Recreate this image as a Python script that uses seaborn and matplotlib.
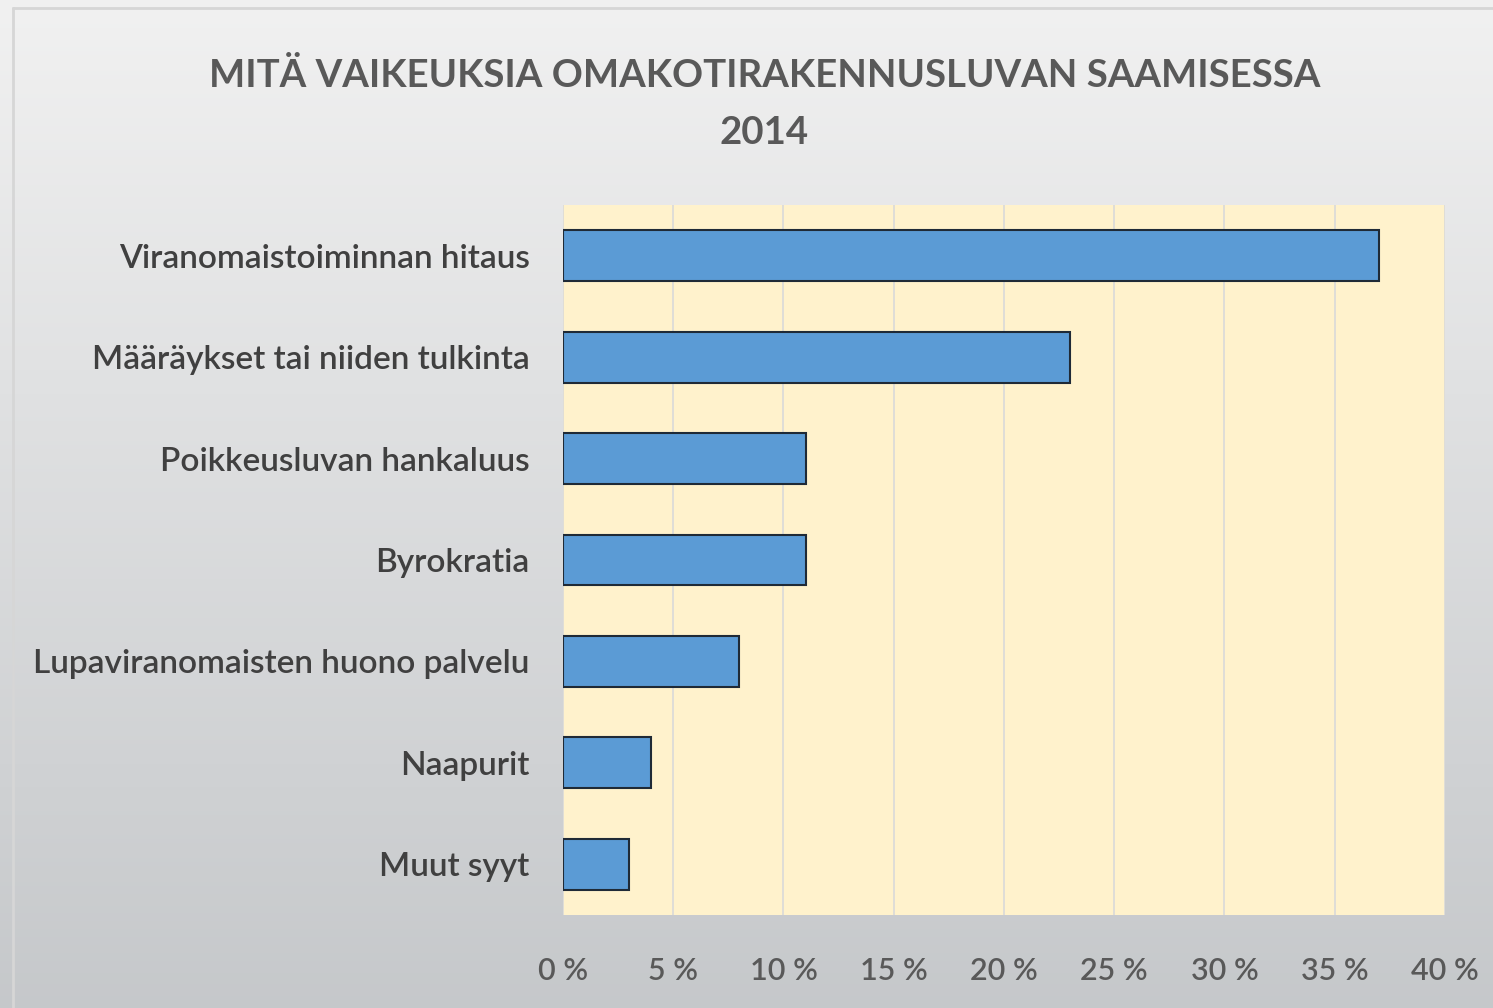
import numpy as np
import pandas as pd
import matplotlib.pyplot as plt
import seaborn as sns
from matplotlib.ticker import MultipleLocator, FuncFormatter

# Chart data
categories = [
    "Viranomaistoiminnan hitaus",
    "Määräykset tai niiden tulkinta",
    "Poikkeusluvan hankaluus",
    "Byrokratia",
    "Lupaviranomaisten huono palvelu",
    "Naapurit",
    "Muut syyt",
]
shares = [37, 23, 11, 11, 8, 4, 3]

TITLE = "MITÄ VAIKEUKSIA OMAKOTIRAKENNUSLUVAN SAAMISESSA\n2014"
TEXT_COLOR = "#595959"

sns.set_style("white")
plt.rcParams["font.family"] = ["Lato", "DejaVu Sans"]

df = pd.DataFrame({"syy": categories, "osuus": shares})

fig = plt.figure(figsize=(14.93, 10.08), dpi=100)

# Gradient background for the whole figure
bg = fig.add_axes([0, 0, 1, 1], zorder=-10)
grad = np.linspace(0, 1, 256).reshape(-1, 1)
top = np.array([0.945, 0.945, 0.945])
bottom = np.array([0.775, 0.785, 0.795])
img = top + (bottom - top) * grad[..., None]
bg.imshow(img, aspect="auto", extent=[0, 1, 0, 1], origin="upper")
bg.plot([0.009, 1.01, 1.01, 0.009, 0.009], [0.992, 0.992, -0.01, -0.01, 0.992],
        color="#d6d6d6", lw=2)
bg.set_xlim(0, 1)
bg.set_ylim(0, 1)
bg.axis("off")

ax = fig.add_axes([0.3771, 0.0923, 0.5907, 0.7043])
ax.set_facecolor("#FFF2CC")
sns.barplot(data=df, x="osuus", y="syy", ax=ax, color="#5B9BD5",
            edgecolor="#1f2a36", linewidth=1.5, width=0.5, saturation=1)

ax.set_xlim(0, 40)
ax.xaxis.set_major_locator(MultipleLocator(5))
ax.xaxis.set_major_formatter(FuncFormatter(lambda v, p: f"{v:.0f} %"))
ax.grid(axis="x", color="#D9D9D9", lw=1.2)
ax.set_axisbelow(True)
for s in ax.spines.values():
    s.set_visible(False)
ax.set_xlabel("")
ax.set_ylabel("")
ax.tick_params(axis="x", length=0, pad=30, labelsize=22, labelcolor=TEXT_COLOR)
ax.tick_params(axis="y", length=0, pad=24, labelsize=24, labelcolor="#404040")
for lab in ax.get_yticklabels() + ax.get_xticklabels():
    lab.set_fontweight("semibold")

fig.text(0.512, 0.897, TITLE, ha="center", va="center", fontsize=27.6,
         fontweight="bold", color=TEXT_COLOR, linespacing=1.8)

fig.savefig("out.png", dpi=100)
